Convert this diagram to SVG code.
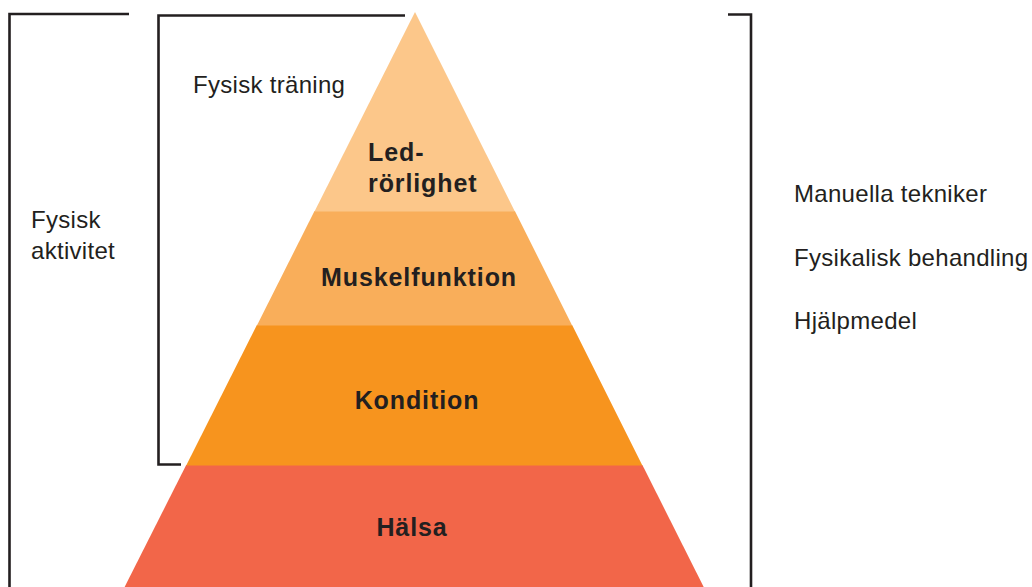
<svg xmlns="http://www.w3.org/2000/svg" width="1032" height="587" viewBox="0 0 1032 587">
<style>
.br{fill:none;stroke:#231f20;stroke-width:2.6}
.t{font-family:"Liberation Sans",Arial,sans-serif;font-size:24px;fill:#231f20;letter-spacing:0.3px}
.b{font-family:"Liberation Sans",Arial,sans-serif;font-size:25px;font-weight:bold;fill:#231f20;letter-spacing:0.9px}
</style>
<rect width="1032" height="587" fill="#ffffff"/>
<g id="level-halsa">
<polygon points="186.2,465 642.4,465 703.7,587 124.6,587" fill="#f26649"/>
<text class="b" x="412" y="536" text-anchor="middle">Hälsa</text>
</g>
<g id="level-kondition">
<polygon points="256.9,325 572.1,325 642.4,465.5 186.2,465.5" fill="#f7941e"/>
<text class="b" x="417" y="409" text-anchor="middle">Kondition</text>
</g>
<g id="level-muskelfunktion">
<polygon points="314.5,211 514.9,211 572.1,325.5 256.9,325.5" fill="#f9ae5a"/>
<text class="b" x="419" y="286" text-anchor="middle">Muskelfunktion</text>
</g>
<g id="level-ledrorlighet">
<polygon points="415,12 514.9,211.5 314.5,211.5" fill="#fcc78a"/>
<text class="b" x="368" y="161">Led-</text>
<text class="b" x="368" y="192">rörlighet</text>
</g>
<g id="connectors">
<path class="br" d="M129,14 H9.5 V587"/>
<path class="br" d="M405,15.5 H158.5 V464.5 H181"/>
<path class="br" d="M728,14.5 H751 V587"/>
</g>
<g id="label-fysisk-traning">
<text class="t" x="193" y="93">Fysisk träning</text>
</g>
<g id="label-fysisk-aktivitet">
<text class="t" x="31" y="228">Fysisk</text>
<text class="t" x="31" y="259">aktivitet</text>
</g>
<g id="label-right">
<text class="t" x="794" y="202">Manuella tekniker</text>
<text class="t" x="794" y="266">Fysikalisk behandling</text>
<text class="t" x="794" y="329">Hjälpmedel</text>
</g>
</svg>
